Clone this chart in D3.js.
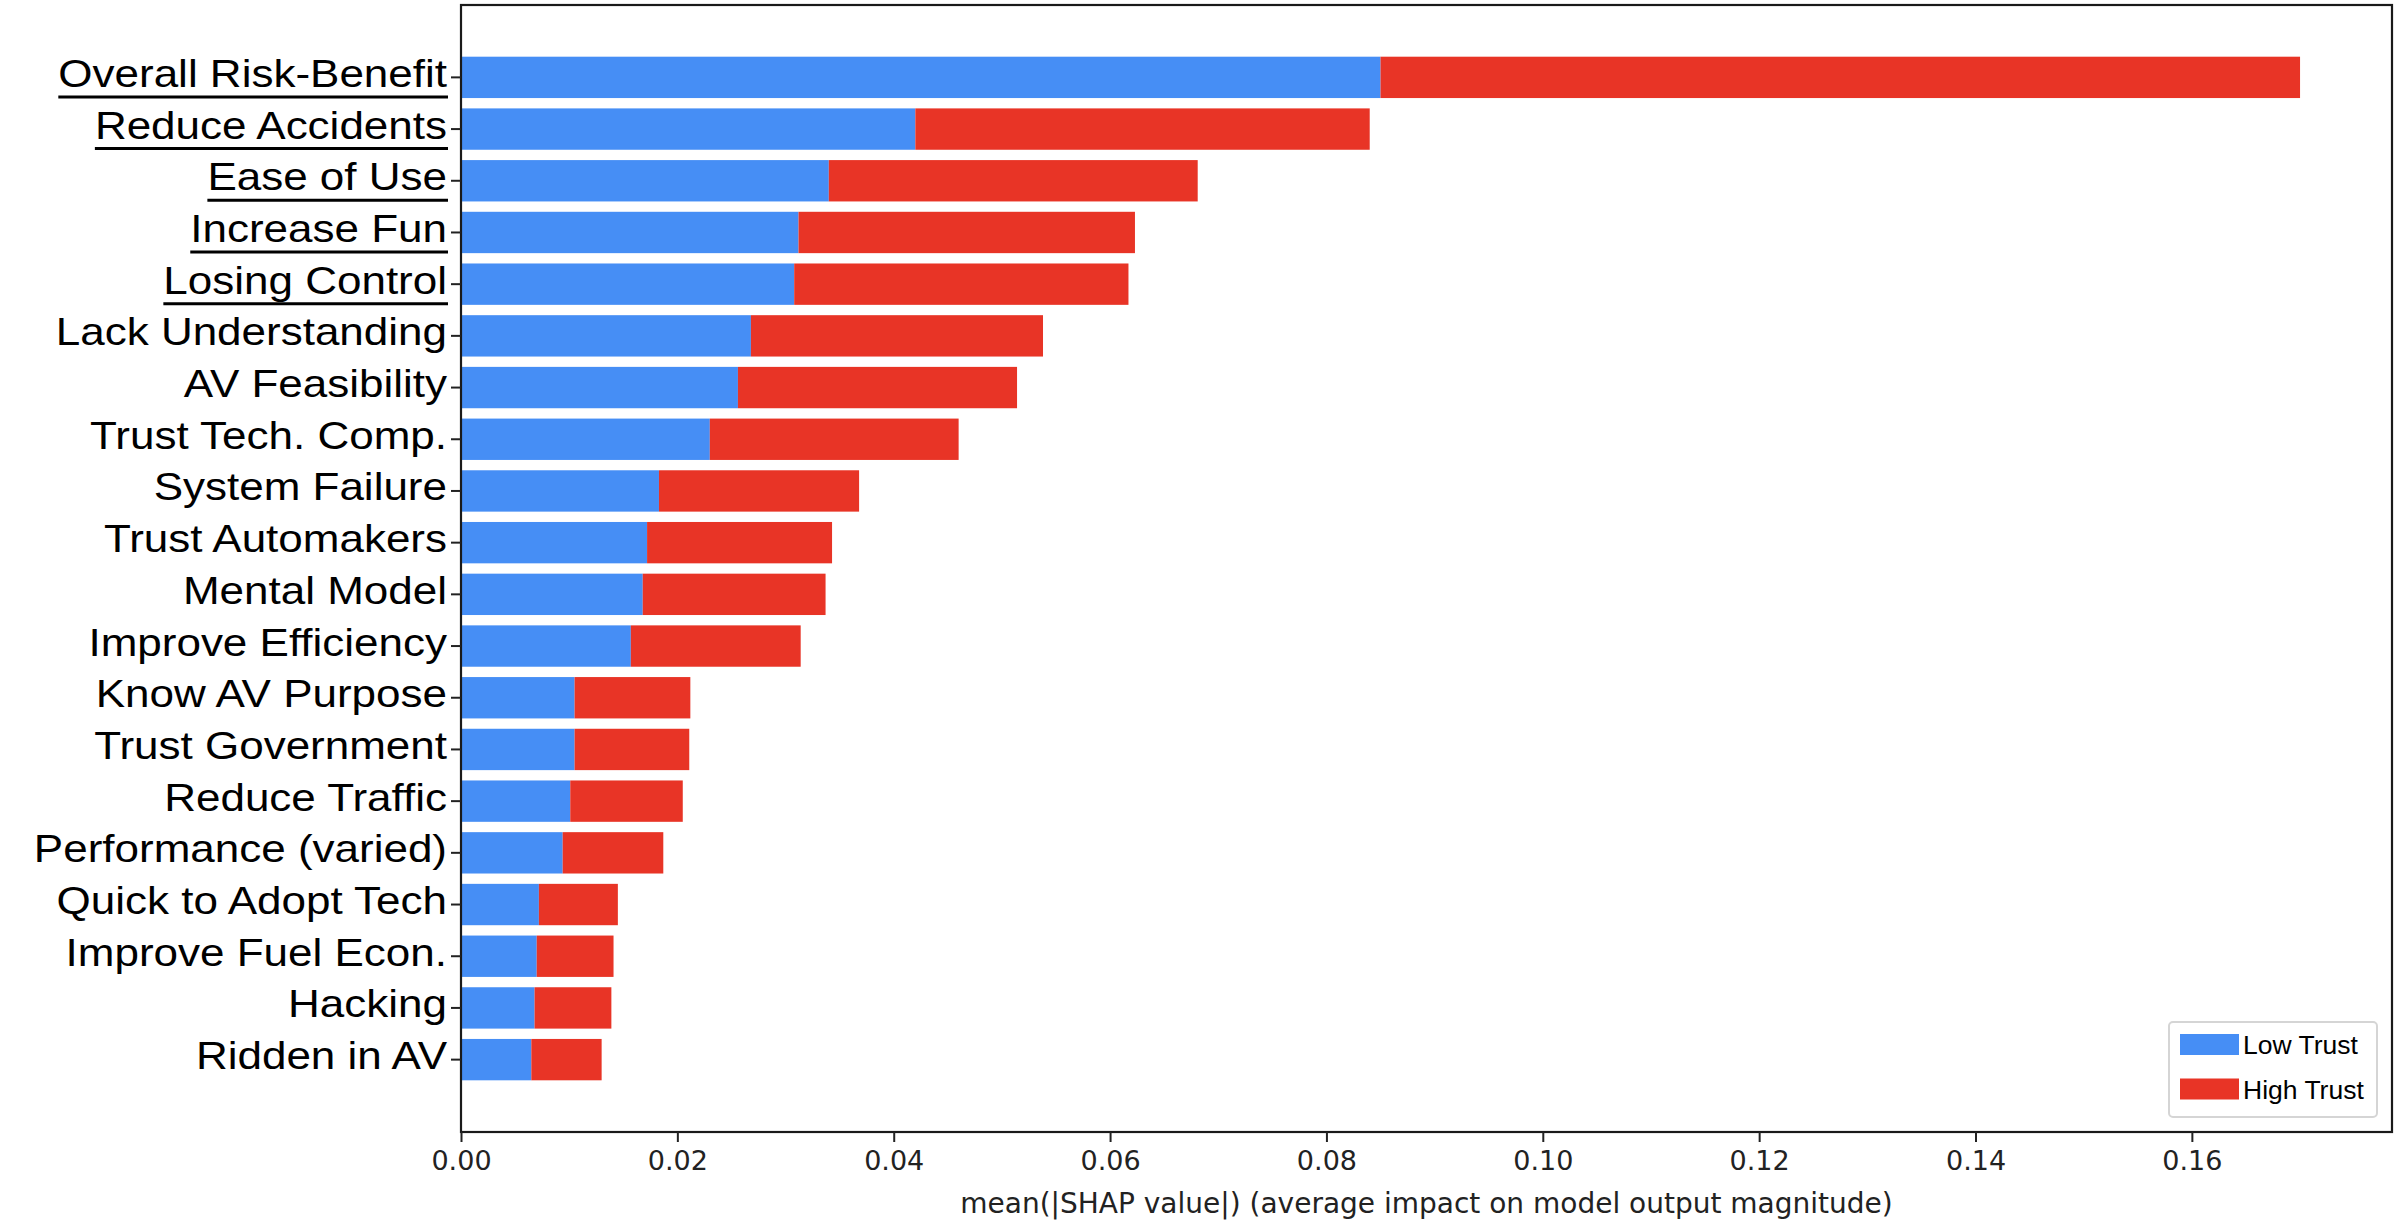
<!DOCTYPE html>
<html>
<head>
<meta charset="utf-8">
<script src="https://cdn.jsdelivr.net/npm/d3@7"></script>
<style>
  html, body { margin: 0; padding: 0; background: #fff; }
  svg { display: block; }
</style>
</head>
<body>
<svg id="chart" width="2396" height="1226"></svg>
<script>
const categories = [
  "Overall Risk-Benefit", "Reduce Accidents", "Ease of Use", "Increase Fun", "Losing Control",
  "Lack Understanding", "AV Feasibility", "Trust Tech. Comp.", "System Failure", "Trust Automakers",
  "Mental Model", "Improve Efficiency", "Know AV Purpose", "Trust Government", "Reduce Traffic",
  "Performance (varied)", "Quick to Adopt Tech", "Improve Fuel Econ.", "Hacking", "Ridden in AV"
];
const underlined = ["Overall Risk-Benefit", "Reduce Accidents", "Ease of Use", "Increase Fun", "Losing Control"];
const lowTrust = [0.0850, 0.0420, 0.0340, 0.0312, 0.0308, 0.0268, 0.0256, 0.0230, 0.0183, 0.0172,
                  0.0168, 0.0157, 0.0105, 0.0105, 0.0101, 0.0094, 0.0072, 0.0070, 0.0068, 0.0065];
const highTrust = [0.0850, 0.0420, 0.0341, 0.0311, 0.0309, 0.0270, 0.0258, 0.0230, 0.0185, 0.0171,
                   0.0169, 0.0157, 0.0107, 0.0106, 0.0104, 0.0093, 0.0073, 0.0071, 0.0071, 0.0065];
const seriesNames = ["Low Trust", "High Trust"];
const seriesColors = ["#468ef5", "#e83426"];
const xTicks = [0, 0.02, 0.04, 0.06, 0.08, 0.10, 0.12, 0.14, 0.16];
const xLabel = "mean(|SHAP value|) (average impact on model output magnitude)";

const svg = d3.select("#chart");
const plotLeft = 461, plotRight = 2392, plotTop = 5, plotBottom = 1132;

const maxTotal = d3.max(categories, (c, i) => lowTrust[i] + highTrust[i]);
const x = d3.scaleLinear().domain([0, maxTotal * 1.05]).range([plotLeft, plotRight]);
const y = d3.scaleBand().domain(categories).range([plotTop, plotBottom]).paddingInner(0.2).paddingOuter(1.0);

const stacked = categories.map((c, i) => ({
  cat: c,
  segs: [
    { s: 0, x0: 0, x1: lowTrust[i] },
    { s: 1, x0: lowTrust[i], x1: lowTrust[i] + highTrust[i] }
  ]
}));

const barG = svg.append("g");
stacked.forEach(d => {
  d.segs.forEach(sg => {
    barG.append("rect")
      .attr("x", x(sg.x0))
      .attr("y", y(d.cat))
      .attr("width", x(sg.x1) - x(sg.x0))
      .attr("height", y.bandwidth())
      .attr("fill", seriesColors[sg.s]);
  });
});

svg.append("rect")
  .attr("x", plotLeft).attr("y", plotTop)
  .attr("width", plotRight - plotLeft).attr("height", plotBottom - plotTop)
  .attr("fill", "none").attr("stroke", "#1a1a1a").attr("stroke-width", 2.2);

const xAxis = d3.axisBottom(x).tickValues(xTicks).tickFormat(d3.format(".2f")).tickSize(10).tickPadding(9);
const gx = svg.append("g").attr("transform", `translate(0,${plotBottom})`).call(xAxis);
gx.select(".domain").remove();
gx.selectAll(".tick line").attr("stroke", "#222").attr("stroke-width", 2);
gx.selectAll(".tick text")
  .attr("font-family", "DejaVu Sans")
  .attr("font-size", 27)
  .attr("fill", "#222");

svg.append("text")
  .attr("x", (plotLeft + plotRight) / 2)
  .attr("y", 1213)
  .attr("text-anchor", "middle")
  .attr("font-family", "DejaVu Sans")
  .attr("font-size", 28)
  .attr("fill", "#222")
  .text(xLabel);

const yAxisG = svg.append("g");
const labelScaleX = 1.14;
categories.forEach(c => {
  const cy = y(c) + y.bandwidth() / 2;
  yAxisG.append("line")
    .attr("x1", plotLeft - 10).attr("x2", plotLeft)
    .attr("y1", cy).attr("y2", cy)
    .attr("stroke", "#222").attr("stroke-width", 2);
  const tx = plotLeft - 14, ty = cy + 9.5;
  const t = yAxisG.append("text")
    .attr("transform", `translate(${tx},${ty}) scale(${labelScaleX},1)`)
    .attr("text-anchor", "end")
    .attr("font-family", "Liberation Sans, Arial, sans-serif")
    .attr("font-size", 38.6)
    .attr("fill", "#000")
    .text(c);
  if (underlined.includes(c)) {
    const w = t.node().getComputedTextLength() * labelScaleX;
    yAxisG.append("line")
      .attr("x1", tx - w).attr("x2", tx + 1)
      .attr("y1", ty + 10).attr("y2", ty + 10)
      .attr("stroke", "#000").attr("stroke-width", 3);
  }
});

const lg = svg.append("g");
lg.append("rect")
  .attr("x", 2169).attr("y", 1022).attr("width", 208).attr("height", 95)
  .attr("rx", 4).attr("fill", "#fff").attr("stroke", "#d5d5d5").attr("stroke-width", 2);
seriesNames.forEach((n, i) => {
  const yy = 1034 + i * 44.5;
  lg.append("rect")
    .attr("x", 2180).attr("y", yy).attr("width", 59).attr("height", 21)
    .attr("fill", seriesColors[i]);
  lg.append("text")
    .attr("x", 2243).attr("y", yy + 20)
    .attr("font-family", "Liberation Sans, Arial, sans-serif")
    .attr("font-size", 26.5)
    .attr("fill", "#000")
    .text(n);
});
</script>
</body>
</html>
